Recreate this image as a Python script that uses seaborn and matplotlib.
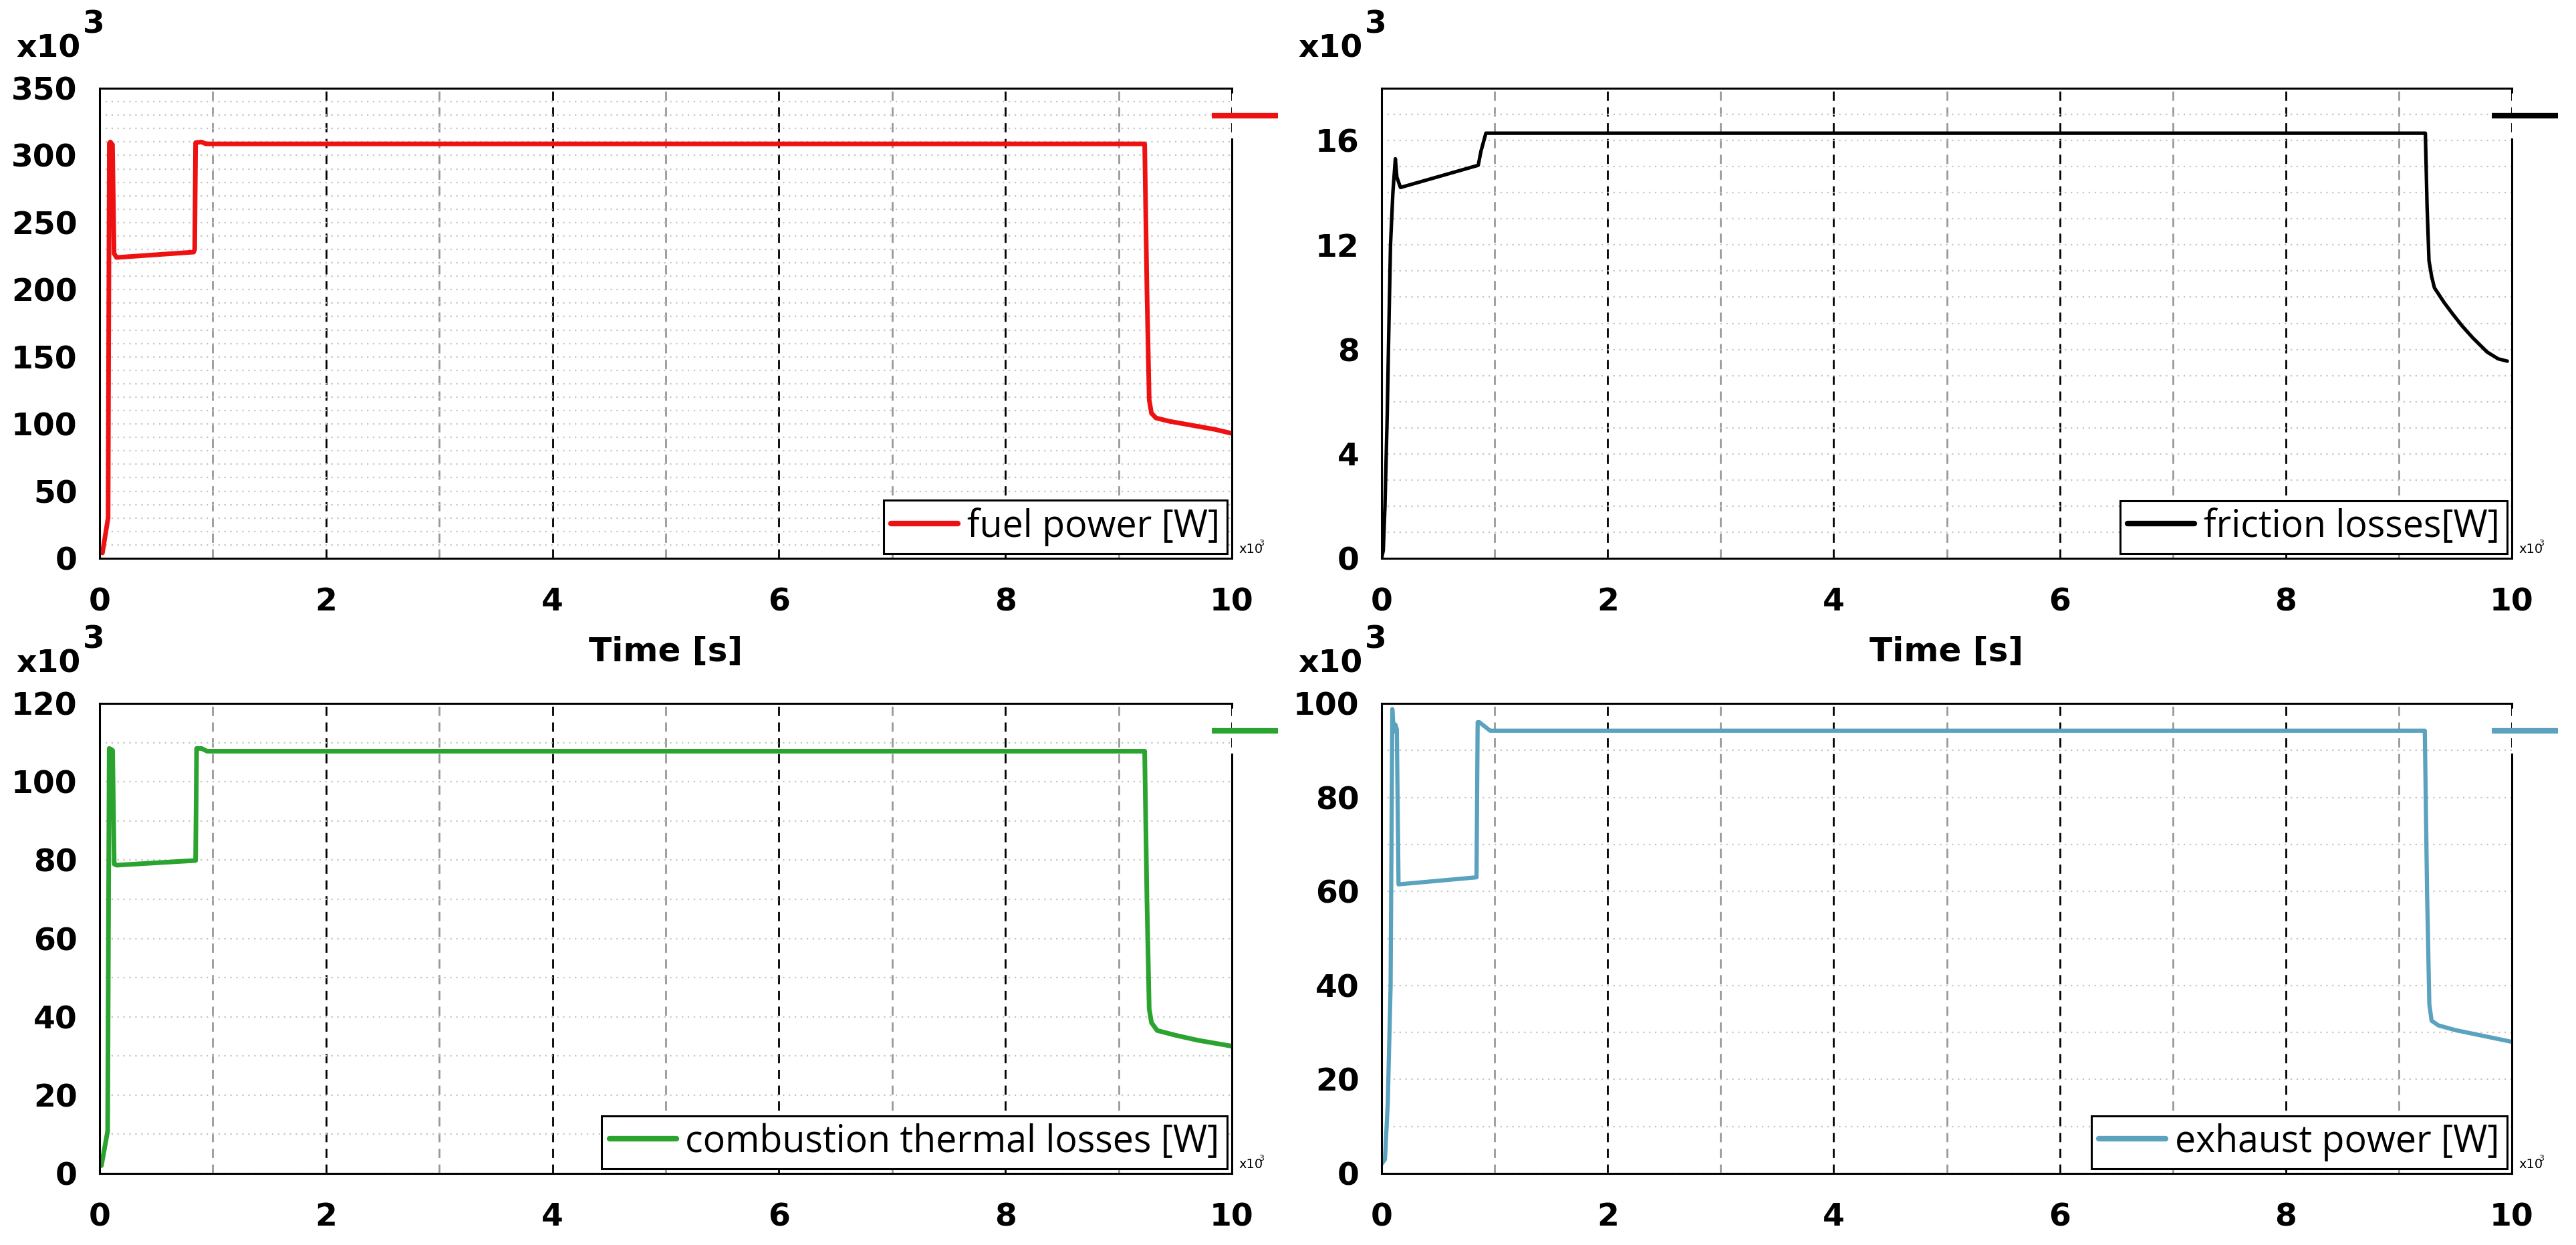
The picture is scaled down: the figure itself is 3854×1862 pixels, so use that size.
import numpy as np
import matplotlib
matplotlib.use("Agg")
import matplotlib.pyplot as plt
from matplotlib.ticker import MultipleLocator, FuncFormatter
import seaborn as sns

# values (time in s, power in W)
fuel_time = [0, 25, 75, 86, 95, 114, 128, 150, 830, 840, 848, 900, 940,
             9230, 9250, 9270, 9290, 9330, 9450, 9650, 9850, 10000]
fuel_power = [5000, 4000, 30000, 309000, 310000, 308000, 227000, 224000, 228000, 230000, 309500, 310000, 308600,
              308600, 200000, 118000, 108000, 104500, 102000, 99000, 96000, 93000]

friction_time = [0, 15, 30, 50, 63, 79, 100, 122, 135, 167, 855, 880, 923,
                 9235, 9250, 9267, 9290, 9315, 9400, 9476, 9560, 9653, 9781, 9878, 9960]
friction_loss = [0, 300, 2000, 5500, 8500, 12000, 14000, 15300, 14600, 14200, 15050, 15600, 16280,
                 16280, 13500, 11400, 10800, 10360, 9800, 9360, 8900, 8450, 7900, 7640, 7550]

combustion_time = [0, 16, 71, 85, 100, 115, 129, 150, 848, 857, 900, 950,
                   9230, 9250, 9270, 9290, 9340, 9500, 9700, 10000]
combustion_loss = [2500, 2000, 10800, 108500, 108300, 108000, 79000, 78700, 79900, 108500, 108500, 107800,
                   107800, 70000, 42000, 38500, 36500, 35300, 34000, 32500]

exhaust_time = [0, 30, 55, 80, 95, 108, 122, 135, 150, 840, 850, 865, 960,
                9230, 9250, 9270, 9290, 9350, 9500, 9700, 10000]
exhaust_power = [2000, 3000, 15000, 40000, 98800, 94000, 95500, 94500, 61500, 63000, 96000, 96000, 94200,
                 94200, 60000, 36000, 32500, 31500, 30500, 29500, 28000]

labels = ["fuel power [W]", "friction losses[W]", "combustion thermal losses [W]", "exhaust power [W]"]
colors = ["#ee1111", "black", "#2aa32f", "#5aa2be"]

sns.set_style("white")
plt.rcParams['font.family'] = ['DejaVu Sans']
plt.rcParams['font.weight'] = 'bold'
plt.rcParams['text.color'] = 'black'
plt.rcParams['xtick.color'] = 'black'
plt.rcParams['ytick.color'] = 'black'
plt.rcParams['axes.labelcolor'] = 'black'

W, H = 3854, 1862
fig = plt.figure(figsize=(W / 100, H / 100), dpi=100, facecolor='w')

# panel boxes in pixels: left, top, right, bottom
boxes = [(149, 132, 1843, 835), (2067, 132, 3758, 835),
         (149, 1052, 1843, 1755), (2067, 1052, 3758, 1755)]
series = [(fuel_time, fuel_power), (friction_time, friction_loss),
          (combustion_time, combustion_loss), (exhaust_time, exhaust_power)]
ylims = [(350, 50, 10), (18, 4, 1), (120, 20, 10), (100, 20, 10)]
widths = [5, 3.8, 5, 4.5]

fmt = FuncFormatter(lambda v, p: f"{v:g}")

for i in range(4):
    left, top, right, bottom = boxes[i]
    ax = fig.add_axes([left / W, 1 - bottom / H, (right - left) / W, (bottom - top) / H])
    t, v = series[i]
    ymax, major, minor = ylims[i]

    sns.lineplot(x=np.array(t) / 1000, y=np.array(v) / 1000, color=colors[i], lw=widths[i],
                 label=labels[i], ax=ax, sort=False, estimator=None)

    ax.set_xlim(0, 10)
    ax.set_ylim(0, ymax)
    ax.xaxis.set_major_locator(MultipleLocator(2))
    ax.xaxis.set_minor_locator(MultipleLocator(1))
    ax.yaxis.set_major_locator(MultipleLocator(major))
    ax.yaxis.set_minor_locator(MultipleLocator(minor))
    ax.xaxis.set_major_formatter(fmt)
    ax.yaxis.set_major_formatter(fmt)
    ax.set_xlabel("")
    ax.set_ylabel("")

    ax.tick_params(which='major', direction='out', length=14, width=2.2, labelsize=34, pad=10)
    ax.tick_params(which='minor', direction='out', length=7, width=2.2)
    ax.tick_params(axis='x', which='major', pad=17)
    ax.tick_params(axis='x', which='minor', length=6)

    # grid
    ax.set_axisbelow(True)
    ax.grid(True, which='major', axis='x', color='black', ls=(0, (5, 3.5)), lw=2)
    ax.grid(True, which='minor', axis='x', color='#999999', ls=(0, (5, 3.5)), lw=2)
    ax.grid(True, which='both', axis='y', color='#c4c4c4', ls=(0, (1, 3)), lw=1.6)

    for s in ax.spines.values():
        s.set_visible(True)
        s.set_color('black')
        s.set_linewidth(2.2)
    ax.spines['right'].set_bounds(0, 0.892 * ymax)
    ax.plot([1, 1], [1, 1 - 6 / 703], transform=ax.transAxes, clip_on=False, color='black', lw=2.2)

    # value marker outside the right edge
    ax.plot([0.982, 1.041], [0.9417, 0.9417], transform=ax.transAxes, clip_on=False,
            color=colors[i], lw=6, solid_capstyle='butt')

    leg = ax.legend(loc='lower right', prop={'family': 'Open Sans', 'size': 40, 'weight': 'normal'},
                    frameon=True, fancybox=False, edgecolor='black', framealpha=1,
                    borderpad=0.2, borderaxespad=0.13, handlelength=1.8, handletextpad=0.25)
    leg.get_frame().set_linewidth(2.2)
    for ln in leg.get_lines():
        ln.set_linewidth(6)

    if i < 2:
        ax.set_xlabel("Time [s]", fontsize=36, fontweight='bold', labelpad=20)

    # y scale label
    fig.text((left - 125) / W, 1 - (top - 47) / H, "x10", fontsize=34, fontweight='bold', va='baseline')
    fig.text((left - 25) / W, 1 - (top - 82) / H, "3", fontsize=34, fontweight='bold', va='baseline')
    # x scale label
    fig.text((right + 10) / W, 1 - (bottom - 8) / H, "x10", fontsize=14, fontweight='normal', va='baseline')
    fig.text((right + 40) / W, 1 - (bottom - 19) / H, "3", fontsize=9, fontweight='normal', va='baseline')

plt.savefig('out.png', dpi=100, facecolor='w')
